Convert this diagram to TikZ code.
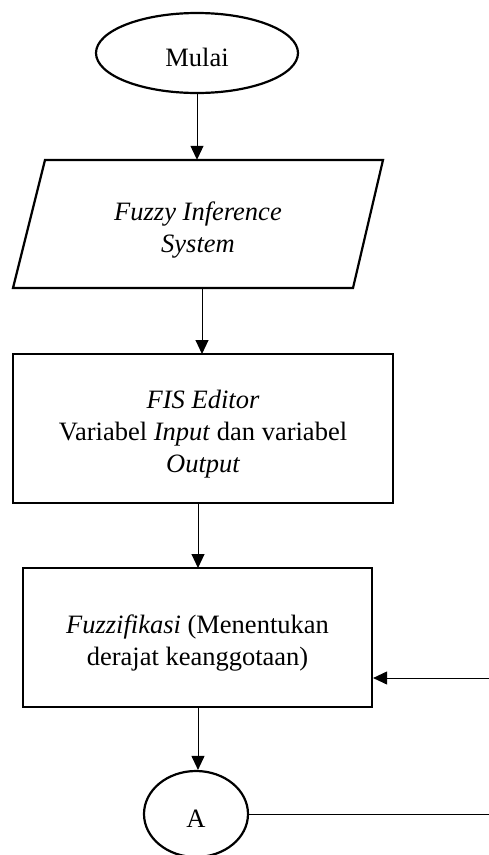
\documentclass[tikz,border=0pt]{standalone}
\usepackage{fontspec}
\setmainfont{Liberation Serif}
\usetikzlibrary{arrows.meta,shapes.geometric}
\newcommand{\firstup}{\rule{0pt}{30pt}}
\begin{document}
\begin{tikzpicture}[x=1pt,y=-1pt,
  txt/.style={align=center,font=\fontsize{26.5}{32}\selectfont,inner sep=0pt},
  box/.style={draw,line width=2.2pt,minimum width=#1},
  conn/.style={line width=1pt,-{Triangle[width=13pt,length=14pt]}},
  plain/.style={line width=1pt}]
\useasboundingbox (0,0) rectangle (489,855);
% start
\node[txt,draw,ellipse,line width=2.2pt,minimum width=202pt,minimum height=80pt] (start) at (197,53) {\rule{0pt}{27pt}Mulai};
% input/output parallelogram
\draw[line width=2.2pt] (45,160) -- (383,160) -- (353,288) -- (13,288) -- cycle;
\node[txt,minimum width=338pt,minimum height=128pt] (io) at (198,224) {\firstup\itshape Fuzzy Inference\\\itshape System};
% FIS editor
\node[txt,box=380pt,minimum height=149pt] (fis) at (203,428.5) {\firstup\itshape FIS Editor\\Variabel \textit{Input} dan variabel\\\itshape Output};
% fuzzifikasi
\node[txt,box=349pt,minimum height=139pt] (fuz) at (197.5,637.5) {\firstup\textit{Fuzzifikasi} (Menentukan\\derajat keanggotaan)};
% connector A
\node[txt,draw,ellipse,line width=2.2pt,minimum width=104pt,minimum height=86pt] (A) at (196,814) {\rule{0pt}{27pt}A};
\coordinate (inR) at (489,678);
\coordinate (outR) at (489,814);
% connectors
\draw[conn] (start.south) -- (io.north -| start.south);
\draw[conn] (202,288) -- (202,354);
\draw[conn] (198,503) -- (198,568);
\draw[conn] (198,707) -- (A.north -| 198,707);
\draw[conn] (inR) -- (fuz.east |- inR);
\draw[plain] (A.east) -- (outR);
\end{tikzpicture}
\end{document}
